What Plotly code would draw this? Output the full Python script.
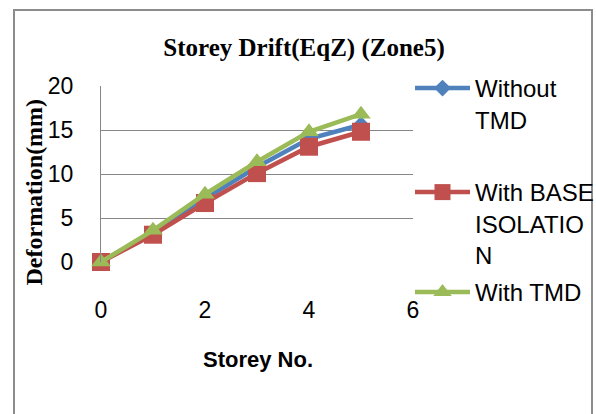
import plotly.graph_objects as go

# ---- data ----
storey = [0, 1, 2, 3, 4, 5]
without_tmd = [0, 3.4, 7.2, 10.8, 14.0, 15.6]
with_base_iso = [0, 3.1, 6.7, 10.1, 13.1, 14.8]
with_tmd = [0, 3.6, 7.7, 11.4, 14.8, 16.8]
names = ["Without<br>TMD", "With BASE<br>ISOLATIO<br>N", "With TMD"]
x_ticks = [0, 2, 4, 6]
y_ticks = [0, 5, 10, 15, 20]

W, H = 596, 414
X0, X1, Y0, Y1 = 101, 413, 86, 262  # plot area in px


def px(x):
    return (x - X0) / (X1 - X0)


def py(y):
    return (Y1 - y) / (Y1 - Y0)


BLUE, RED, GREEN = "#4F81BD", "#C0504D", "#9BBB59"
SANS = "Liberation Sans, Arial, sans-serif"
SERIF = "Liberation Serif, Times New Roman, serif"

fig = go.Figure()
fig.add_trace(go.Scatter(x=storey, y=without_tmd, name=names[0], mode="lines+markers",
                         line=dict(color=BLUE, width=4.5),
                         marker=dict(symbol="diamond", size=13, color=BLUE),
                         cliponaxis=False, legend="legend"))
fig.add_trace(go.Scatter(x=storey, y=with_base_iso, name=names[1], mode="lines+markers",
                         line=dict(color=RED, width=4.5),
                         marker=dict(symbol="square", size=18, color=RED),
                         cliponaxis=False, legend="legend2"))
fig.add_trace(go.Scatter(x=storey, y=with_tmd, name=names[2], mode="lines+markers",
                         line=dict(color=GREEN, width=4.5),
                         marker=dict(symbol="triangle-up", size=17, color=GREEN),
                         cliponaxis=False, legend="legend3"))

leg_common = dict(font=dict(family=SANS, size=24, color="black"), valign="top",
                  xanchor="left", yanchor="top", bgcolor="rgba(0,0,0,0)", borderwidth=0,
                  itemsizing="trace", itemwidth=55)
LX = 410
fig.update_layout(
    width=W, height=H,
    margin=dict(l=X0, r=W - X1, t=Y0, b=H - Y1, pad=0, autoexpand=False),
    paper_bgcolor="white", plot_bgcolor="white",
    showlegend=True,
    legend=dict(x=px(LX), y=py(66), **leg_common),
    legend2=dict(x=px(LX), y=py(170), **leg_common),
    legend3=dict(x=px(LX), y=py(270), **leg_common),
    title=dict(text="<b>Storey Drift(EqZ) (Zone5)</b>", x=304 / W, xref="container",
               y=1 - 47 / H, yref="container", xanchor="center", yanchor="middle",
               font=dict(family=SERIF, size=25, color="black")),
    xaxis=dict(range=[0, 6], tickvals=x_ticks, showgrid=False, zeroline=False,
               showline=False, ticks="", ticklabelstandoff=32,
               tickfont=dict(family=SANS, size=23, color="black")),
    yaxis=dict(range=[0, 20], tickvals=y_ticks, showgrid=True, gridcolor="#868686",
               gridwidth=1, zeroline=False, showline=True, linecolor="#868686",
               linewidth=1, ticks="", ticklabelstandoff=22,
               tickfont=dict(family=SANS, size=23, color="black")),
    annotations=[
        dict(text="<b>Deformation(mm)</b>", xref="paper", yref="paper",
             x=px(33.5), y=py(192), xanchor="center", yanchor="middle",
             textangle=-90, showarrow=False,
             font=dict(family=SERIF, size=24, color="black")),
        dict(text="<b>Storey No.</b>", xref="paper", yref="paper",
             x=px(258), y=py(359), xanchor="center", yanchor="middle",
             showarrow=False, font=dict(family=SANS, size=22, color="black")),
    ],
    shapes=[dict(type="rect", xref="paper", yref="paper",
                 x0=px(14), x1=px(592), y0=py(430), y1=py(10),
                 line=dict(color="#8C8C8C", width=2), fillcolor="rgba(0,0,0,0)", layer="below")],
)

fig.write_html("out.html")
